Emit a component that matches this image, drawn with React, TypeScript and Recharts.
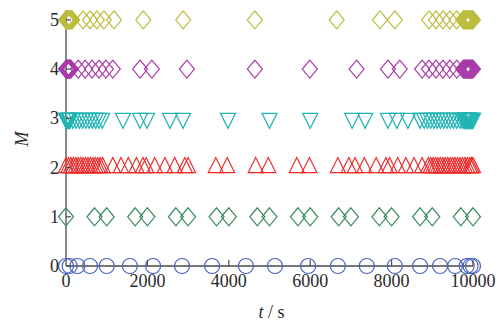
import React from 'react';
import { ScatterChart, Scatter, XAxis, YAxis } from 'recharts';

const timeTicks = [0, 2000, 4000, 6000, 8000, 10000];
const levelTicks = [0, 1, 2, 3, 4, 5];

// t (s) of every marker, one list per level M
const tLevel0 = [0, 90, 280, 590, 1000, 1570, 2140, 2850, 3590, 4420, 5135, 5950, 6680, 7390, 8080, 8700, 9190, 9560, 9845, 9940, 10000];
const tLevel1 = [0, 700, 1000, 1700, 2000, 2700, 3000, 3700, 4000, 4700, 5000, 5700, 6000, 6700, 7000, 7700, 8000, 8700, 9000, 9700, 10000];
const tLevel2 = [
  0, 60, 120, 180, 240, 300, 360, 420, 480, 540, 600, 660, 720, 780, 840, 900,
  1150, 1350, 1530, 1730, 1890, 1970, 2180, 2430, 2670, 2920, 3000,
  3680, 3960, 4660, 4970, 5670, 5980,
  6680, 6950, 7100, 7330, 7620, 7860, 7950, 8150, 8350, 8550, 8750,
  8900, 8960, 9020, 9080, 9140, 9200, 9260, 9320, 9380, 9440, 9500, 9560, 9620, 9680, 9740, 9800, 9860, 9920, 9960, 10000,
];
const tLevel3 = [
  0, 20, 40, 60, 80, 100, 170, 250, 330, 410, 490, 570, 650, 730, 810, 890,
  1400, 1820, 1990, 2555, 2875, 3980, 5000, 6000, 7030, 7350, 7910, 8130, 8400, 8700,
  8800, 8880, 8960, 9040, 9120, 9200, 9280, 9360, 9440, 9520, 9600, 9680, 9740,
  9780, 9800, 9820, 9840, 9860, 9880, 9900, 9920, 9940, 9960, 9980, 10000,
];
const tLevel4 = [
  0, 15, 30, 45, 60, 75, 90, 105, 120, 300, 470, 640, 810, 980, 1150,
  1820, 2110, 2970, 4640, 5990, 7140, 7910, 8200, 8750,
  8920, 9090, 9260, 9430, 9600, 9760, 9780, 9800, 9820, 9840, 9860, 9880, 9900, 9920, 9940, 9960, 9980, 10000,
];
const tLevel5 = [
  0, 15, 30, 45, 60, 75, 90, 105, 120, 135, 150, 420, 590, 760, 930, 1180,
  1900, 2880, 4640, 6650, 7715, 8080,
  8920, 9090, 9260, 9430, 9600, 9760, 9780, 9800, 9820, 9840, 9860, 9880, 9900, 9920, 9940, 9960, 9980, 10000,
];

const colors = {
  blue: '#4a63bd',
  green: '#3a8a5e',
  red: '#ec2a2a',
  cyan: '#22b4b4',
  magenta: '#a93ba9',
  olive: '#bcbc3e',
};
const axisColor = '#4a4a4a';
const textColor = '#2a2a2a';
const serif = '"Liberation Serif", "DejaVu Serif", serif';

const toPoints = (ts: number[], m: number) => ts.map((t) => ({ t, m }));

const circleShape = (color: string) => (p: any) => (
  <circle cx={p.cx} cy={p.cy} r={7.5} fill="none" stroke={color} strokeWidth={1.2} />
);
const diamondShape = (color: string) => (p: any) => {
  const { cx, cy } = p;
  const hw = 7.5;
  const hh = 9;
  return (
    <path
      d={`M${cx},${cy - hh}L${cx + hw},${cy}L${cx},${cy + hh}L${cx - hw},${cy}Z`}
      fill="none"
      stroke={color}
      strokeWidth={1.2}
    />
  );
};
const triUpShape = (color: string) => (p: any) => {
  const { cx, cy } = p;
  const hw = 7.5;
  return (
    <path
      d={`M${cx},${cy - 10}L${cx + hw},${cy + 5}L${cx - hw},${cy + 5}Z`}
      fill="none"
      stroke={color}
      strokeWidth={1.2}
    />
  );
};
const triDownShape = (color: string) => (p: any) => {
  const { cx, cy } = p;
  const hw = 7.5;
  return (
    <path
      d={`M${cx - hw},${cy - 5}L${cx + hw},${cy - 5}L${cx},${cy + 10}Z`}
      fill="none"
      stroke={color}
      strokeWidth={1.2}
    />
  );
};

const XTick = (p: any) => {
  const { x, y, payload } = p;
  return (
    <g>
      {payload.value !== 0 && (
        <line x1={x} y1={y} x2={x} y2={y - 6} stroke={axisColor} strokeWidth={1.2} />
      )}
      <text x={x} y={y + 21} textAnchor="middle" fontFamily={serif} fontSize={18} fill={textColor}>
        {payload.value}
      </text>
    </g>
  );
};

const YTick = (p: any) => {
  const { x, y, payload } = p;
  return (
    <g>
      <line x1={x} y1={y} x2={x + 5} y2={y} stroke={axisColor} strokeWidth={1.2} />
      <text x={x - 7} y={y + 6} textAnchor="end" fontFamily={serif} fontSize={18} fill={textColor}>
        {payload.value}
      </text>
    </g>
  );
};

const XLabel = (p: any) => {
  const vb = p.viewBox || { x: 66, y: 266, width: 407, height: 58 };
  const cx = vb.x + vb.width / 2 + 2;
  return (
    <text x={cx} y={vb.y + 52} textAnchor="middle" fontFamily={serif} fontSize={18} fill={textColor}>
      <tspan fontStyle="italic">t</tspan>
      <tspan> / s</tspan>
    </text>
  );
};

const YLabel = (p: any) => {
  const vb = p.viewBox || { x: 0, y: 10, width: 66, height: 256 };
  const cy = vb.y + vb.height / 2 + 1;
  const cx = 22;
  return (
    <text
      x={cx}
      y={cy}
      transform={`rotate(-90, ${cx}, ${cy})`}
      textAnchor="middle"
      dominantBaseline="central"
      fontFamily={serif}
      fontStyle="italic"
      fontSize={18}
      fill={textColor}
    >
      M
    </text>
  );
};

export default function App() {
  return (
    <div style={{ position: 'absolute', left: 0, top: 0, width: 504, height: 324, background: '#fff' }}>
      <ScatterChart width={504} height={324} margin={{ top: 10, right: 31, bottom: 0, left: 0 }}>
        <XAxis
          type="number"
          dataKey="t"
          domain={[0, 10000]}
          ticks={timeTicks}
          interval={0}
          height={58}
          tickSize={0}
          tickMargin={0}
          tickLine={false}
          axisLine={{ stroke: axisColor, strokeWidth: 1.3 }}
          tick={<XTick />}
          label={{ content: <XLabel /> }}
        />
        <YAxis
          type="number"
          dataKey="m"
          domain={[0, 5.2]}
          ticks={levelTicks}
          interval={0}
          width={66}
          tickSize={0}
          tickMargin={0}
          tickLine={false}
          axisLine={{ stroke: axisColor, strokeWidth: 1.3 }}
          tick={<YTick />}
          label={{ content: <YLabel /> }}
        />
        <Scatter data={toPoints(tLevel1, 1)} shape={diamondShape(colors.green)} isAnimationActive={false} />
        <Scatter data={toPoints(tLevel2, 2)} shape={triUpShape(colors.red)} isAnimationActive={false} />
        <Scatter data={toPoints(tLevel3, 3)} shape={triDownShape(colors.cyan)} isAnimationActive={false} />
        <Scatter data={toPoints(tLevel4, 4)} shape={diamondShape(colors.magenta)} isAnimationActive={false} />
        <Scatter data={toPoints(tLevel5, 5)} shape={diamondShape(colors.olive)} isAnimationActive={false} />
        <Scatter data={toPoints(tLevel0, 0)} shape={circleShape(colors.blue)} isAnimationActive={false} />
      </ScatterChart>
    </div>
  );
}
